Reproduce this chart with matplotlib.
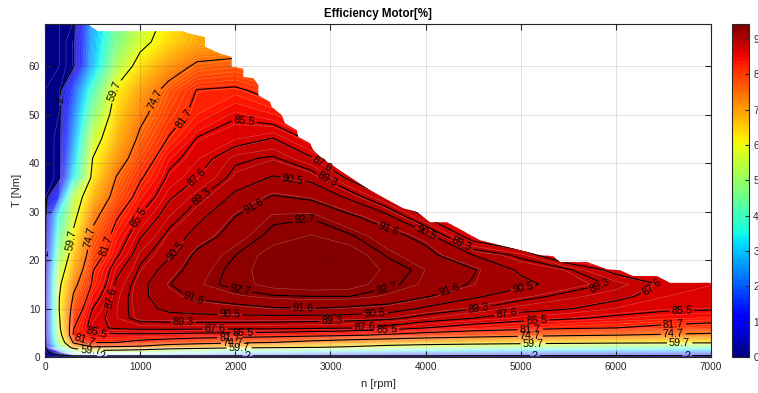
import numpy as np
import matplotlib
matplotlib.use("Agg")
import matplotlib.pyplot as plt
from matplotlib.patches import Polygon

plt.rcParams['font.family'] = ['Liberation Sans', 'DejaVu Sans']

# ---- operating grid -------------------------------------------------------
speed_rpm = [0, 150, 300, 500, 750, 1000, 1300, 1600, 2000, 2400, 2800,
             3200, 3600, 4000, 4500, 5000, 5500, 6000, 6500, 7000]
torque_nm = [0, 0.3, 1, 2, 3, 4.5, 6, 8, 10, 12.5, 15, 18, 21, 25, 29, 33,
             37, 41, 45, 50, 55, 60, 65, 69]

# motor efficiency [%]; one list per speed, values follow torque_nm
eff_by_speed = [
    [0] * 24,                                                                                   # 0
    [0, 1, 8, 38, 50, 55, 58, 59, 60, 59.5, 58, 54, 48, 42, 36, 15, 1.5, 1.5, 1.5, 1, 0.5, 0, 0, 0],  # 150
    [0, 2.5, 40, 66, 76, 82.5, 81.5, 80, 78, 75.5, 72.7, 68.5, 65.5, 61.5, 57, 53, 33, 28, 24, 21, 17, 2, 2, 1],  # 300
    [0, 2.5, 52.5, 74, 81.9, 84.7, 87.0, 86.5, 85.5, 84.0, 82.3, 81.4, 78.9, 76.5, 72.5, 67.5, 62.5, 59.7, 55, 47, 39, 28, 27, 26],  # 500
    [0, 2.5, 49.6, 73.5, 81.7, 84.8, 87.9, 88.6, 88.6, 88.4, 87.95, 87.0, 85.1, 83.5, 81.2, 77.5, 75, 71, 67.4, 64.7, 61.3, 52, 46, 44],  # 750
    [0, 2.5, 47, 73, 80.3, 84.8, 88.2, 89.9, 90.0, 90.2, 90.1, 89.5, 88.9, 87.4, 85.7, 83.6, 81.2, 78.4, 76.1, 73.0, 69.5, 63.4, 57, 55],  # 1000
    [0, 2.5, 40.6, 69, 78.9, 84.7, 88.3, 90.0, 90.8, 91.2, 91.55, 91.1, 90.3, 89.7, 88.6, 87.3, 86.0, 84.7, 82.0, 79.4, 77.2, 70.8, 64, 62],  # 1300
    [0, 2.5, 35.9, 66.8, 77.7, 84.4, 88.2, 90.1, 91.0, 91.8, 92.3, 92.1, 91.9, 90.95, 90.15, 89.1, 87.6, 86.6, 85.7, 83, 81.9, 76, 69, 68],  # 1600
    [0, 2.5, 31.1, 63.8, 76.1, 84.1, 88.2, 90.1, 91.2, 92.3, 93.0, 92.95, 92.7, 92.1, 91.6, 90.8, 89.8, 89.0, 86.7, 85.2, 82.5, 77, 70, 70],  # 2000
    [0, 2.5, 29.2, 62.2, 74.7, 83.7, 88.1, 90.1, 91.5, 92.6, 93.7, 93.9, 93.8, 92.95, 92.5, 91.7, 90.6, 89.5, 87.7, 84, 80, 74, 70, 70],  # 2400
    [0, 2.5, 26.8, 60.3, 72.3, 83.1, 88.0, 90.0, 91.6, 92.7, 94.0, 94.3, 94.2, 93.4, 92.6, 91.4, 90.2, 87.8, 85, 82, 78, 72, 70, 70],  # 2800
    [0, 2.5, 25.4, 58.1, 70.3, 82.2, 87.7, 89.96, 91.4, 92.7, 93.8, 94.0, 94.0, 92.8, 91.8, 90.3, 87.2, 84, 82, 80, 77, 72, 70, 70],  # 3200
    [0, 2.4, 23.6, 53.7, 68.6, 81.0, 87.0, 89.65, 91.2, 92.3, 92.9, 93.2, 92.6, 92.0, 90.9, 87.5, 85, 83, 81, 79, 76, 72, 70, 70],  # 3600
    [0, 2.4, 22.5, 51.1, 66.7, 79.6, 85.5, 88.7, 90.3, 91.7, 92.3, 92.4, 92.0, 91.2, 87.5, 85, 84, 82, 80, 78, 75, 72, 70, 70],  # 4000
    [0, 2.3, 21.6, 48.8, 65.3, 78.0, 84.2, 87.6, 89.4, 90.7, 91.5, 91.7, 90.5, 86.5, 85, 84, 83, 81, 79, 77, 74, 71, 70, 70],  # 4500
    [0, 2.3, 20.7, 46.7, 64.1, 76.6, 83.2, 86.5, 88.3, 89.8, 90.8, 90.3, 89.0, 84, 83.5, 83, 82, 80, 78, 76, 73, 70, 70, 70],  # 5000
    [0, 2.2, 19.9, 44.8, 63.1, 75.5, 82.3, 85.8, 87.7, 88.9, 90.0, 89.5, 85.1, 84.5, 83.5, 82.5, 81, 79, 77, 75, 72, 70, 70, 70],  # 5500
    [0, 2.2, 19.2, 43, 62.2, 74.7, 81.7, 85.0, 86.7, 88.1, 89.1, 86.9, 85, 84.5, 83, 82, 80, 78, 76, 74, 71, 70, 70, 70],  # 6000
    [0, 2.1, 18.8, 42.2, 61.7, 73.9, 80.5, 84.3, 86.0, 86.8, 87.4, 86.5, 85, 84, 82, 81, 79, 77, 75, 73, 71, 70, 70, 70],  # 6500
    [0, 2.1, 18.5, 41.4, 61.3, 73.1, 79.5, 83.7, 85.8, 86.3, 86.8, 86, 85, 83.5, 81.5, 80, 78, 76, 74, 72, 70, 70, 70, 70],  # 7000
]

# maximum torque curve (speed, torque)
limit_rpm = [0, 440, 555, 1450, 1503, 1682, 1682, 1839, 1962, 1962, 2084, 2084,
             2190, 2242, 2242, 2365, 2383, 2488, 2523, 2646, 2662, 2785, 2820,
             2908, 3416, 3763, 3910, 4047, 4225, 4572, 5203, 5339, 5413, 5697,
             5907, 6044, 6180, 6433, 6569, 7000]
limit_nm = [68.7, 68.7, 67.2, 67.2, 66.8, 66.0, 64.0, 62.6, 61.9, 59.9, 59.5, 57.8,
            57.5, 56.1, 54.0, 52.6, 51.6, 49.9, 48.2, 46.8, 45.4, 44.1, 42.7,
            41.0, 34.4, 30.7, 29.9, 27.8, 27.8, 24.1, 21.0, 20.8, 19.6, 19.6,
            18.1, 17.9, 16.7, 16.7, 15.3, 15.3]

# labelled iso-efficiency lines and where their labels sit (speed, torque)
label_spots = {
    2:    [(18, 21.4), (175, 53), (600, 0.2), (2130, 0.2), (5150, 0.25), (6750, 0.3)],
    59.7: [(700, 55), (265, 24.1), (480, 1.1), (2040, 1.8), (5130, 2.6), (6670, 2.9)],
    74.7: [(1125, 53.4), (445, 24.8), (1980, 2.8), (5100, 4.2), (6605, 4.7)],
    81.7: [(1419, 49.9), (600, 23.3), (403, 3.0), (1944, 3.8), (5100, 5.5), (6605, 6.8)],
    85.5: [(2102, 49.4), (964, 28.9), (543, 5.0), (2084, 4.9), (3591, 5.2), (5168, 7.3), (6692, 9.5)],
    87.6: [(1594, 37.1), (648, 12.4), (1787, 5.6), (3363, 5.9), (4853, 8.9), (6394, 13.8), (2908, 39.6)],
    89.3: [(1629, 33.4), (1454, 6.6), (3013, 6.7), (4555, 10.2), (5833, 14.8), (4380, 23.5), (2996, 37.8)],
    90.5: [(1401, 21.5), (1944, 8.7), (3468, 9.0), (5027, 13.9), (4012, 25.7), (2610, 37.2)],
    91.6: [(2190, 31.3), (1559, 11.9), (2715, 10.0), (4257, 13.7), (3608, 26.3)],
    92.7: [(2733, 28.6), (2050, 13.5), (3591, 14.2)],
}

x_ticks = [0, 1000, 2000, 3000, 4000, 5000, 6000, 7000]
y_ticks = [0, 10, 20, 30, 40, 50, 60]
cbar_ticks = [0, 10, 20, 30, 40, 50, 60, 70, 80, 90]

# ---- figure ---------------------------------------------------------------
W, H = 758, 393
fig = plt.figure(figsize=(W / 100, H / 100), dpi=100)
ax = fig.add_axes([45 / W, 1 - 357 / H, 666 / W, 333 / H])
cax = fig.add_axes([732 / W, 1 - 357 / H, 17 / W, 333 / H])

N, TQ = np.meshgrid(speed_rpm, torque_nm)
E = np.array(eff_by_speed, dtype=float).T

verts = [(speed_rpm[0], 0)] + list(zip(limit_rpm, limit_nm)) + [(speed_rpm[-1], 0)]
region = Polygon(verts, closed=True, facecolor='none', edgecolor='none',
                 transform=ax.transData)
ax.add_patch(region)

fill_levels = np.linspace(0, E.max(), 101)
cf = ax.contourf(N, TQ, E, levels=fill_levels, cmap='jet', zorder=1)
cf.set_clip_path(region)
fine = ax.contour(N, TQ, E, levels=fill_levels, colors='white',
                  linewidths=0.35, alpha=0.35, zorder=1.5)
fine.set_clip_path(region)

for lev, spots in label_spots.items():
    cs = ax.contour(N, TQ, E, levels=[lev], colors='black', linewidths=0.8, zorder=2)
    cs.set_clip_path(region)
    ax.clabel(cs, fmt=lambda v: f"{v:g}", manual=spots, inline=True,
              inline_spacing=2, fontsize=7.8, colors='black')

ax.set_xlim(0, 7000)
ax.set_ylim(0, 68.7)
ax.set_xticks(x_ticks)
ax.set_yticks(y_ticks)
ax.set_axisbelow(False)
ax.grid(True, color='#262626', alpha=0.15, linewidth=0.6)
ax.tick_params(direction='in', length=4, width=0.8, top=True, right=True,
               labelsize=7.2, colors='#262626', labelcolor='#262626')
for sp in ax.spines.values():
    sp.set_linewidth(0.8)
    sp.set_color('#262626')

ax.set_title('Efficiency Motor[%]', fontsize=8.3, fontweight='bold', pad=5)
ax.set_xlabel('n [rpm]', fontsize=8, color='#262626', labelpad=5)
ax.set_ylabel('T [Nm]', fontsize=8, color='#262626', labelpad=5)

cb = fig.colorbar(cf, cax=cax, ticks=cbar_ticks)
cb.outline.set_linewidth(0.8)
cb.outline.set_edgecolor('#262626')
cax.tick_params(direction='in', length=3, width=0.8, labelsize=7.2,
                colors='#262626', labelcolor='#262626', pad=3)

fig.savefig('out.png', dpi=100)
